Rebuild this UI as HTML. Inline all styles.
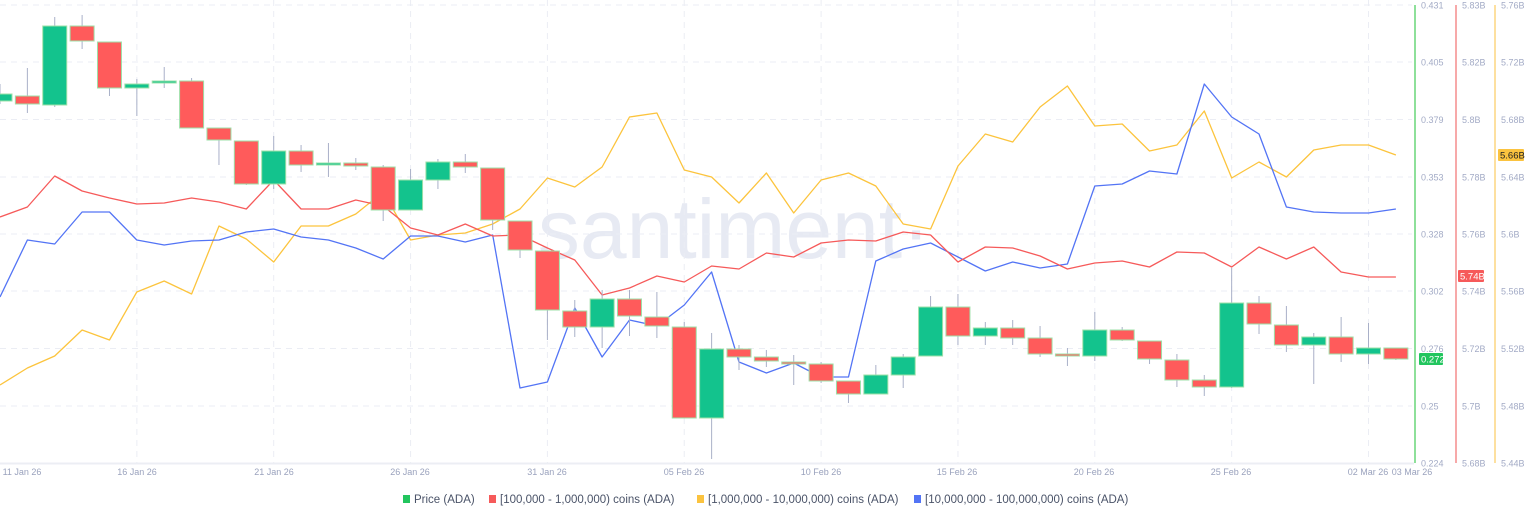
<!DOCTYPE html>
<html><head><meta charset="utf-8"><style>
html,body{margin:0;padding:0;background:#fff;width:1536px;height:520px;overflow:hidden}
svg text{font-family:"Liberation Sans",sans-serif}
</style></head><body>
<svg id="s" width="1536" height="520" xmlns="http://www.w3.org/2000/svg">
<text x="720" y="258" font-size="84" fill="#e7eaf3" text-anchor="middle">·santiment·</text>
<g id="grid"></g>
<g id="lines"></g>
<g id="candles"></g>
<g id="axes"></g>
</svg>
<script>
const NS="http://www.w3.org/2000/svg";
function el(p,t,a,txt){const e=document.createElementNS(NS,t);for(const k in a)e.setAttribute(k,a[k]);if(txt!==undefined)e.textContent=txt;document.getElementById(p).appendChild(e);return e;}
const dx=27.37;
// grid
[5,62,119.5,177,234,291,348.5,406].forEach(y=>el('grid','line',{x1:0,x2:1412,y1:y,y2:y,stroke:'#ebedf4','stroke-dasharray':'6,5','stroke-width':1}));
for(let d=5;d<=50;d+=5){const x=d*dx;el('grid','line',{x1:x,x2:x,y1:0,y2:463,stroke:'#ebedf4','stroke-dasharray':'6,5','stroke-width':1});}
el('grid','line',{x1:0,x2:1414,y1:463.5,y2:463.5,stroke:'#eceef4','stroke-width':2});
const labels=[[22,'11 Jan 26'],[137,'16 Jan 26'],[274,'21 Jan 26'],[410,'26 Jan 26'],[547,'31 Jan 26'],[684,'05 Feb 26'],[821,'10 Feb 26'],[957,'15 Feb 26'],[1094,'20 Feb 26'],[1231,'25 Feb 26'],[1368,'02 Mar 26'],[1412,'03 Mar 26']];
labels.forEach(([x,t])=>el('axes','text',{x:x,y:475,'font-size':9,fill:'#9aa2bd','text-anchor':'middle'},t));
// lines
const red=[217,207,176,191,198,204,203,198,202,209,180,209,209,200,206,228,235,224,236,235,248,260,295,288,276,282,266,269,253,257,243,240,241,232,235,262,247,248,256,269,263,261,267,252,253,267,247,259,247,272,277,277];
const blue=[297,240,244,212,212,240,245,241,240,232,229,237,240,248,259,236,236,242,235,388,382,308,357,320,326,305,272,362,373,363,377,377,261,249,243,257,271,262,268,264,186,184,171,174,84,117,134,207,212,213,213,209];
const yel=[385,368,356,330,340,292,281,294,226,239,262,226,226,214,192,240,235,233,224,209,178,187,167,117,113,170,177,203,173,213,180,173,186,224,229,166,134,142,107,86,126,124,151,145,111,178,162,177,150,145,145,155];
function pl(a,c){el('lines','polyline',{points:a.map((y,i)=>(i*dx).toFixed(1)+','+y).join(' '),fill:'none',stroke:c,'stroke-width':1.3,'stroke-linejoin':'round'});}
pl(yel,'#fcc43d');pl(blue,'#5374f5');pl(red,'#f65a5a');
// candles: [top,bottom,wickTop,wickBot,green]
const C=[[94,101,84,104,1],[96,104,68,113,0],[26,105,17,107,1],[26,41,15,49,0],[42,88,42,96,0],[84,88,79,116,1],[81,83,67,88,1],[81,128,78,128,0],[128,140,128,165,0],[141,184,141,185,0],[151,184,136,189,1],[151,165,145,172,0],[163,165,143,177,1],[163,166,158,170,0],[167,210,165,221,0],[180,210,169,210,1],[162,180,159,189,1],[162,167,154,173,0],[168,220,168,230,0],[221,250,221,258,0],[251,310,251,340,0],[311,327,300,337,0],[299,327,290,348,1],[299,316,290,336,0],[317,326,292,338,0],[327,418,322,418,0],[349,418,333,459,1],[349,357,345,370,0],[357,361,350,367,0],[362,363,355,385,0],[364,381,362,383,0],[381,394,381,403,0],[375,394,365,394,1],[357,375,354,388,1],[307,356,296,356,1],[307,336,294,345,0],[328,336,322,345,1],[328,338,320,345,0],[338,354,326,357,0],[354,356,348,366,0],[330,356,312,361,1],[330,340,327,341,0],[341,359,341,364,0],[360,380,354,387,0],[380,387,375,396,0],[303,387,268,388,1],[303,324,296,334,0],[325,345,306,352,0],[337,345,333,384,1],[337,354,317,362,0],[348,354,323,364,1],[348,359,348,360,0]];
C.forEach((c,i)=>{const x=i*dx;el('candles','line',{x1:x,x2:x,y1:c[2],y2:c[3],stroke:'#a9b0c8','stroke-width':1});
 const h=Math.max(c[1]-c[0],2);el('candles','rect',{x:x-12,y:c[0],width:24,height:h,fill:c[4]?'#13c38d':'#ff5b5b',stroke:'#9ee0a8','stroke-width':1});});
// right axes
el('axes','line',{x1:1415,x2:1415,y1:5,y2:463,stroke:'#8ee09a','stroke-width':2});
el('axes','line',{x1:1456,x2:1456,y1:5,y2:463,stroke:'#f7a9a9','stroke-width':2});
el('axes','line',{x1:1495,x2:1495,y1:5,y2:463,stroke:'#fde0a0','stroke-width':2});
const ys=[5,62,119.5,177,234,291,348.5,406,463];
const p=['0.431','0.405','0.379','0.353','0.328','0.302','0.276','0.25','0.224'];
const r=['5.83B','5.82B','5.8B','5.78B','5.76B','5.74B','5.72B','5.7B','5.68B'];
const yy=['5.76B','5.72B','5.68B','5.64B','5.6B','5.56B','5.52B','5.48B','5.44B'];
ys.forEach((y,i)=>{el('axes','text',{x:1421,y:y+3.5,'font-size':9,fill:'#a3abc6'},p[i]);el('axes','text',{x:1462,y:y+3.5,'font-size':9,fill:'#a3abc6'},r[i]);el('axes','text',{x:1501,y:y+3.5,'font-size':9,fill:'#a3abc6'},yy[i]);});
el('axes','rect',{x:1419,y:353,width:24,height:12,fill:'#22c55e',rx:1});
el('axes','text',{x:1421,y:362.5,'font-size':9.5,fill:'#fff'},'0.272');
el('axes','rect',{x:1458,y:270,width:26,height:12,fill:'#f65a5a',rx:1});
el('axes','text',{x:1460,y:279.5,'font-size':9.5,fill:'#fff'},'5.74B');
el('axes','rect',{x:1498,y:149,width:26,height:12,fill:'#fbc33f',rx:1});
el('axes','text',{x:1500,y:158.5,'font-size':9.5,fill:'#222'},'5.66B');
// legend
const L=[[403,'#22c55e','Price (ADA)'],[489,'#f65a5a','[100,000  - 1,000,000) coins (ADA)'],[697,'#fbc33f','[1,000,000 - 10,000,000) coins (ADA)'],[914,'#5374f5','[10,000,000 - 100,000,000) coins (ADA)']];
L.forEach(([x,c,t])=>{el('axes','rect',{x:x,y:495,width:7,height:8,fill:c});el('axes','text',{x:x+11,y:503,'font-size':11.5,fill:'#4a5368'},t);});
</script>
</body></html>
